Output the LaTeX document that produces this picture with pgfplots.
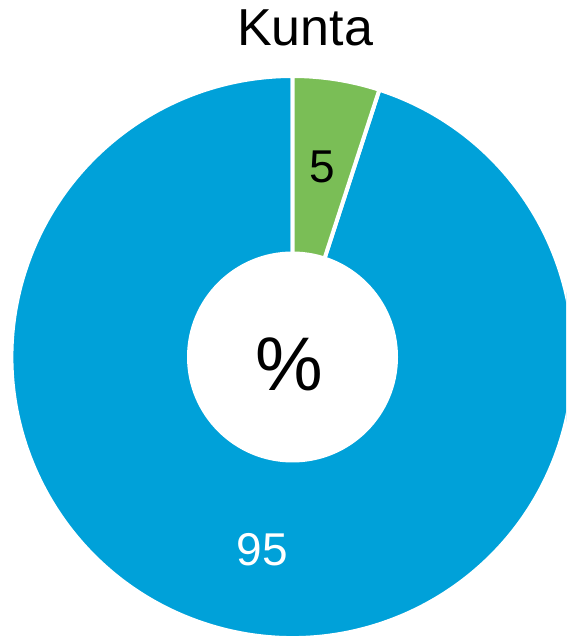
\documentclass[border=0pt]{standalone}
\usepackage{pgfplots}
\pgfplotsset{compat=1.18}
\usepackage{pgfplotstable}
\usepackage{fontspec}
\setmainfont{Liberation Sans}

\definecolor{slblue}{RGB}{0,161,217}
\definecolor{slgreen}{RGB}{122,190,86}

\pgfplotstableread{
label value
muu 95
kunta 5
}\slices

\pgfplotstablegetelem{0}{value}\of\slices
\let\vBlue\pgfplotsretval
\pgfplotstablegetelem{1}{value}\of\slices
\let\vGreen\pgfplotsretval

% angles, clockwise from top
\pgfmathsetmacro\gEnd{90-3.6*\vGreen}
\pgfmathsetmacro\bEnd{\gEnd-3.6*\vBlue}

\begin{document}
\begin{tikzpicture}
\begin{axis}[
    width=566pt, height=636pt,
    scale only axis,
    xmin=0, xmax=566,
    ymin=0, ymax=636,
    ticks=none,
    axis line style={draw=none},
    clip=true,
]
% blue slice
\fill[slblue, draw=white, line width=4pt, line join=round]
    (axis cs:292.5,279) -- ++(\gEnd:281pt)
    arc[start angle=\gEnd, end angle=\bEnd, radius=281pt] -- cycle;
% green slice
\fill[slgreen, draw=white, line width=4pt, line join=round]
    (axis cs:292.5,279) -- ++(90:281pt)
    arc[start angle=90, end angle=\gEnd, radius=281pt] -- cycle;
% hole
\fill[white] (axis cs:292.5,279) circle[radius=105.5pt];

\node[anchor=base, font=\fontsize{52}{56}\selectfont] at (axis cs:305,590) {Kunta};
\node[anchor=base, font=\fontsize{46}{50}\selectfont] at (axis cs:322.5,453) {\vGreen};
\node[anchor=base, text=white, font=\fontsize{46}{50}\selectfont] at (axis cs:262.5,70) {\vBlue};
\node[anchor=base, font=\fontsize{76}{80}\selectfont] at (axis cs:289,245) {\%};
\end{axis}
\end{tikzpicture}
\end{document}
